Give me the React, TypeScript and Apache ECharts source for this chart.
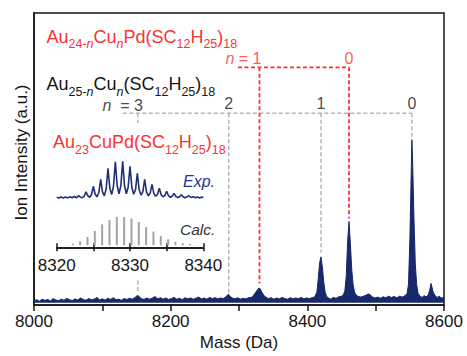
import { useEffect, useRef } from "react";
import * as echarts from "echarts";

const FONT = "'Liberation Sans', Arial, Helvetica, sans-serif";
const NAVY = "#17296b";
const RED = "#fa3232";
const GRAY = "#b4b4b4";
const INK = "#151515";

// Main spectrum: [mass (Da), ion intensity (a.u.)]
const spectrum: [number, number][] = [
  [8000, 1.4], [8004, 1.8], [8008, 1.3], [8012, 2.0], [8016, 1.6], [8020, 1.9], [8024, 1.4], [8028, 2.2],
  [8032, 1.7], [8036, 1.5], [8040, 2.0], [8044, 1.6], [8048, 2.3], [8052, 1.8], [8056, 1.5], [8060, 2.1],
  [8064, 1.7], [8068, 2.4], [8072, 1.9], [8076, 1.6], [8080, 2.2], [8084, 1.8], [8088, 2.0], [8092, 2.6],
  [8096, 1.8], [8100, 2.1], [8104, 1.7], [8108, 2.3], [8112, 1.9], [8116, 2.5], [8120, 1.8], [8124, 2.0],
  [8128, 1.6], [8132, 2.2], [8136, 1.9], [8140, 2.3], [8144, 2.0], [8148, 2.6], [8150, 3.0], [8152, 3.3],
  [8154, 2.8], [8157, 2.2], [8161, 1.9], [8165, 2.4], [8169, 2.0], [8173, 2.3], [8177, 2.9], [8181, 2.1],
  [8185, 2.5], [8189, 2.0], [8193, 2.4], [8197, 1.9], [8201, 2.2], [8205, 2.6], [8209, 2.0], [8213, 2.3],
  [8217, 1.8], [8221, 2.5], [8225, 2.1], [8229, 2.4], [8233, 2.0], [8237, 2.3], [8241, 2.7], [8245, 2.1],
  [8249, 2.4], [8253, 2.0], [8257, 2.6], [8261, 2.2], [8265, 2.5], [8269, 2.1], [8273, 2.4], [8277, 2.2],
  [8281, 2.8], [8283, 3.4], [8285, 3.6], [8287, 3.0], [8290, 2.4], [8294, 2.1], [8298, 2.5], [8302, 2.0],
  [8306, 2.3], [8310, 2.1], [8314, 2.5], [8318, 2.6], [8321, 3.2], [8324, 4.2], [8327, 5.2], [8329, 5.8],
  [8331, 5.6], [8333, 4.6], [8336, 3.4], [8339, 2.7], [8343, 2.2], [8347, 2.5], [8351, 2.0], [8355, 2.4],
  [8359, 2.1], [8363, 2.6], [8367, 2.2], [8371, 2.0], [8375, 2.5], [8379, 2.1], [8383, 2.4], [8387, 2.2],
  [8391, 2.6], [8395, 2.1], [8399, 2.4], [8403, 2.2], [8407, 2.5], [8411, 2.8], [8414, 4.5], [8416, 9.0],
  [8418, 14.5], [8420, 16.5], [8422, 13.0], [8424, 8.0], [8426, 4.5], [8428, 3.0], [8431, 2.4], [8434, 2.0],
  [8438, 2.6], [8442, 2.3], [8446, 2.8], [8450, 3.0], [8453, 3.6], [8455, 5.0], [8457, 10.0], [8459, 22.0],
  [8461, 28.6], [8463, 21.0], [8465, 12.0], [8467, 7.0], [8469, 4.5], [8471, 3.5], [8474, 3.0], [8478, 2.7],
  [8482, 3.0], [8486, 3.4], [8489, 3.8], [8492, 3.5], [8495, 2.8], [8499, 2.4], [8503, 2.7], [8507, 2.3],
  [8511, 2.8], [8515, 2.5], [8519, 3.0], [8523, 2.6], [8527, 2.9], [8531, 2.5], [8535, 3.0], [8539, 2.7],
  [8543, 3.2], [8546, 4.0], [8548, 7.0], [8550, 22.0], [8552, 45.0], [8553, 56.6], [8554, 50.0], [8556, 30.0],
  [8558, 14.0], [8560, 7.0], [8562, 4.0], [8565, 3.0], [8568, 2.6], [8571, 3.2], [8574, 2.8], [8577, 3.5],
  [8579, 5.0], [8581, 7.4], [8582, 6.5], [8584, 4.5], [8587, 3.2], [8590, 2.6], [8593, 3.0], [8596, 2.4],
  [8600, 2.6],
];

// Inset: experimental isotope pattern [mass, intensity]
const expPattern: [number, number][] = [
  [8320.0, 1.0], [8320.3, 0.3], [8320.6, 1.3], [8320.9, 0.4], [8321.2, 1.4], [8321.5, 0.4], [8321.8, 1.5],
  [8322.1, 0.5], [8322.4, 1.8], [8322.7, 0.5], [8323.0, 2.6], [8323.3, 0.8], [8323.5, 0.6], [8323.75, 2.2],
  [8324.0, 6.5], [8324.25, 2.4], [8324.5, 1.0], [8324.75, 3.8], [8325.0, 12.0], [8325.25, 4.0], [8325.5, 1.5],
  [8325.75, 5.8], [8326.0, 19.0], [8326.25, 6.2], [8326.5, 2.4], [8326.75, 9.5], [8327.0, 30.0], [8327.25, 10.0],
  [8327.5, 3.8], [8327.75, 12.0], [8328.0, 36.5], [8328.25, 12.5], [8328.5, 4.5], [8328.75, 12.5], [8329.0, 37.0],
  [8329.25, 12.5], [8329.5, 4.5], [8329.75, 11.0], [8330.0, 32.0], [8330.25, 11.0], [8330.5, 4.0], [8330.75, 8.5],
  [8331.0, 25.0], [8331.25, 8.5], [8331.5, 3.2], [8331.75, 6.5], [8332.0, 19.0], [8332.25, 6.5], [8332.5, 2.5],
  [8332.75, 5.0], [8333.0, 14.0], [8333.25, 5.0], [8333.5, 2.0], [8333.75, 3.8], [8334.0, 10.0], [8334.25, 3.6],
  [8334.5, 1.5], [8334.75, 2.8], [8335.0, 7.0], [8335.25, 2.6], [8335.5, 1.0], [8335.75, 2.0], [8336.0, 5.0],
  [8336.25, 2.0], [8336.5, 0.8], [8336.75, 1.6], [8337.0, 3.5], [8337.25, 1.4], [8337.5, 0.6], [8337.8, 1.5],
  [8338.0, 2.6], [8338.3, 0.8], [8338.6, 1.6], [8338.9, 0.5], [8339.2, 1.4], [8339.5, 0.4], [8339.8, 1.2],
  [8340.0, 0.6],
];

// Inset: calculated isotope pattern
const calcMass = [8322.2, 8323.2, 8324.2, 8325.2, 8326.2, 8327.2, 8328.2, 8329.2, 8330.2, 8331.2, 8332.2, 8333.2, 8334.2, 8335.2, 8336.2, 8337.2, 8338.2];
const calcIntensity = [1.7, 4.0, 8.3, 14.3, 21.0, 25.3, 28.3, 28.3, 26.7, 23.3, 18.3, 13.7, 9.3, 6.0, 3.7, 2.0, 1.3];

// Au25-nCun series markers (gray) and Au24-nCunPd series markers (red)
const grayN = ["3", "2", "1", "0"];
const grayMass = [8152, 8285, 8420, 8553];
const grayEnd = [4.4, 4.2, 18.0, 57.5];
const grayLevel = 65.7;
const grayStart = 8130;
const grayBreak: (number[] | null)[] = [[62.3, 8.4], null, null, null];

const redN = ["1", "0"];
const redMass = [8330, 8461];
const redEnd = [7.4, 29.6];
const redLevel = 81.4;
const redStart = 8298.5;

const DASH = [4, 2.5];

function dashed(data: number[][], color: string, width: number) {
  return {
    type: "line",
    xAxisIndex: 0,
    yAxisIndex: 0,
    data,
    symbol: "none",
    silent: true,
    z: 3,
    lineStyle: { color, width, type: DASH },
  };
}

function formulaRich(color: string) {
  const base = { fontFamily: FONT, color, fontWeight: "normal", verticalAlign: "top" };
  return {
    m: { ...base, fontSize: 18, lineHeight: 18 },
    s: { ...base, fontSize: 12.5, lineHeight: 10, padding: [10.2, 0, 0, 0] },
    si: { ...base, fontSize: 12.5, lineHeight: 10, fontStyle: "italic", padding: [10.2, 0, 0, 0] },
  };
}

export default function App() {
  const ref = useRef<HTMLDivElement>(null);

  useEffect(() => {
    if (!ref.current) return;
    const chart = echarts.init(ref.current, undefined, { renderer: "svg" });

    const series: any[] = [];
    series.push({
      type: "line",
      xAxisIndex: 0,
      yAxisIndex: 0,
      data: spectrum,
      symbol: "none",
      z: 2,
      lineStyle: { color: NAVY, width: 1 },
      areaStyle: { color: NAVY, opacity: 1, origin: 0.8 },
    });

    // gray guide lines
    series.push(dashed([[grayStart, grayLevel], [grayMass[grayMass.length - 1], grayLevel]], GRAY, 1.5));
    grayMass.forEach((m, i) => {
      const br = grayBreak[i];
      if (br) {
        series.push(dashed([[m, grayLevel], [m, br[0]]], GRAY, 1.5));
        series.push(dashed([[m, br[1]], [m, grayEnd[i]]], GRAY, 1.5));
      } else {
        series.push(dashed([[m, grayLevel], [m, grayEnd[i]]], GRAY, 1.5));
      }
    });
    // red guide lines
    series.push(dashed([[redStart, redLevel], [redMass[redMass.length - 1], redLevel]], RED, 1.8));
    redMass.forEach((m, i) => series.push(dashed([[m, redLevel], [m, redEnd[i]]], RED, 1.8)));

    // n labels
    const labelRich = (color: string) => ({
      i: { fontSize: 16, lineHeight: 12, fontFamily: FONT, fontStyle: "italic", color },
      t: { fontSize: 16, lineHeight: 12, fontFamily: FONT, color },
    });
    const labelBase = (color: string, distance: number) => ({
      show: true,
      position: "top",
      distance,
      fontSize: 16,
      lineHeight: 12,
      padding: 0,
      fontFamily: FONT,
      color,
      rich: labelRich(color),
    });
    series.push({
      type: "scatter",
      xAxisIndex: 0,
      yAxisIndex: 0,
      symbolSize: 1,
      silent: true,
      itemStyle: { color: "rgba(0,0,0,0)" },
      label: labelBase(INK, 3),
      data: grayMass.map((m, i) => ({
        value: [m, grayLevel],
        label:
          i === 0
            ? { color: INK, formatter: "{i|n}{t|  = " + grayN[i] + "}", align: "right", offset: [5, 2.2], rich: labelRich(INK) }
            : { color: INK, formatter: grayN[i] },
      })),
    });
    series.push({
      type: "scatter",
      xAxisIndex: 0,
      yAxisIndex: 0,
      symbolSize: 1,
      silent: true,
      itemStyle: { color: "rgba(0,0,0,0)" },
      label: labelBase(RED, 2.3),
      data: redMass.map((m, i) => ({
        value: [m, redLevel],
        label:
          i === 0
            ? { color: RED, formatter: "{i|n}{t| = " + redN[i] + "}", align: "right", offset: [2, 0], rich: labelRich(RED) }
            : { color: RED, formatter: redN[i] },
      })),
    });

    // inset
    series.push({
      type: "line",
      xAxisIndex: 1,
      yAxisIndex: 1,
      data: expPattern,
      symbol: "none",
      z: 5,
      lineStyle: { color: "#1f2f78", width: 1.6 },
    });
    series.push({
      type: "bar",
      xAxisIndex: 2,
      yAxisIndex: 2,
      data: calcMass.map((m, i) => [m, calcIntensity[i]]),
      barWidth: 2,
      z: 5,
      itemStyle: { color: "#a3a3a3" },
    });

    const insetAxisBase = {
      type: "value",
      gridIndex: 2,
      min: 8320,
      max: 8340,
      interval: 5,
      position: "bottom",
      splitLine: { show: false },
      axisLine: { show: true, onZero: false, lineStyle: { color: INK, width: 1.5 } },
    };

    chart.setOption({
      animation: false,
      backgroundColor: "#ffffff",
      textStyle: { fontFamily: FONT },
      title: [
        {
          left: 46.5,
          top: 27.5,
          padding: 0,
          text: "{m|Au}{s|24-}{si|n}{m|Cu}{si|n}{m|Pd(SC}{s|12}{m|H}{s|25}{m|)}{s|18}",
          textStyle: { fontWeight: "normal", rich: formulaRich(RED) },
        },
        {
          left: 46.5,
          top: 75,
          padding: 0,
          text: "{m|Au}{s|25-}{si|n}{m|Cu}{si|n}{m|(SC}{s|12}{m|H}{s|25}{m|)}{s|18}",
          textStyle: { fontWeight: "normal", rich: formulaRich(INK) },
        },
        {
          left: 53,
          top: 133,
          padding: 0,
          text: "{m|Au}{s|23}{m|CuPd(SC}{s|12}{m|H}{s|25}{m|)}{s|18}",
          textStyle: { fontWeight: "normal", rich: formulaRich(RED) },
        },
        {
          left: 183,
          top: 173.5,
          padding: 0,
          text: "Exp.",
          textStyle: { fontSize: 16, fontStyle: "italic", fontWeight: "normal", color: "#27348b", fontFamily: FONT },
        },
        {
          left: 180,
          top: 221,
          padding: 0,
          text: "Calc.",
          textStyle: { fontSize: 15.5, fontStyle: "italic", fontWeight: "normal", color: "#333333", fontFamily: FONT },
        },
      ],
      grid: [
        { left: 34, right: 23, top: 13, bottom: 46, show: true, borderColor: INK, borderWidth: 1.5, backgroundColor: "transparent" },
        { left: 56.7, right: 263.7, top: 150.3, bottom: 157.7 },
        { left: 56.7, right: 263.7, top: 208, bottom: 108.7 },
      ],
      xAxis: [
        {
          type: "value",
          gridIndex: 0,
          min: 8000,
          max: 8600,
          interval: 100,
          name: "Mass (Da)",
          nameLocation: "middle",
          nameGap: 29,
          nameMoveOverlap: false,
          nameTextStyle: { fontSize: 17, color: INK, fontFamily: FONT },
          splitLine: { show: false },
          axisLine: { show: true, lineStyle: { color: INK, width: 1.5 } },
          axisTick: { show: true, inside: false, length: 6, lineStyle: { color: INK, width: 1.5 } },
          axisLabel: {
            fontSize: 17,
            color: INK,
            margin: 8,
            fontFamily: FONT,
            showMinLabel: true,
            showMaxLabel: true,
            formatter: (v: number) => (v % 200 === 0 ? String(v) : ""),
          },
        },
        {
          type: "value",
          gridIndex: 1,
          min: 8320,
          max: 8340,
          show: false,
        },
        {
          ...insetAxisBase,
          axisTick: { show: true, inside: true, length: 4, lineStyle: { color: INK, width: 1.5 } },
          axisLabel: { show: false },
        },
        {
          ...insetAxisBase,
          axisTick: { show: true, inside: false, length: 4, lineStyle: { color: INK, width: 1.5 } },
          axisLabel: {
            show: true,
            fontSize: 17,
            color: INK,
            margin: 10,
            fontFamily: FONT,
            showMinLabel: true,
            showMaxLabel: true,
            hideOverlap: false,
            formatter: (v: number) => (v % 10 === 0 ? String(v) : ""),
          },
        },
      ],
      yAxis: [
        {
          type: "value",
          gridIndex: 0,
          min: 0,
          max: 100,
          name: "Ion Intensity (a.u.)",
          nameLocation: "middle",
          nameGap: 4,
          nameMoveOverlap: false,
          nameTextStyle: { fontSize: 17, color: INK, fontFamily: FONT, padding: [0, 0, 0, 13] },
          splitLine: { show: false },
          axisLine: { show: true, lineStyle: { color: INK, width: 1.5 } },
          axisTick: { show: false },
          axisLabel: { show: false },
        },
        { type: "value", gridIndex: 1, min: 0, max: 48, show: false },
        { type: "value", gridIndex: 2, min: -2, max: 37.3, show: false },
      ],
      series,
    });

    return () => chart.dispose();
  }, []);

  return <div ref={ref} style={{ position: "fixed", left: 0, top: 0, width: 467, height: 356 }} />;
}
